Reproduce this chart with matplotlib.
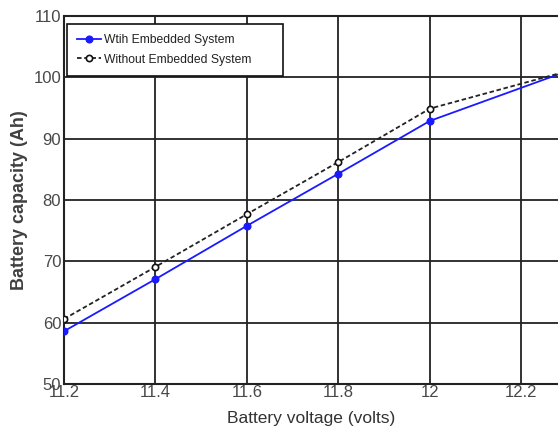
import numpy as np
import matplotlib
matplotlib.use('Agg')
import matplotlib.pyplot as plt

plt.rcParams['font.family'] = ['Liberation Sans', 'DejaVu Sans']

# values
voltage = [11.2, 11.4, 11.6, 11.8, 12.0, 12.3]
with_system = [58.6, 67.1, 75.8, 84.3, 92.9, 101.0]
without_system = [60.6, 69.1, 77.7, 86.2, 94.9, 101.0]
x_ticks = [11.2, 11.4, 11.6, 11.8, 12.0, 12.2]
x_labels = ['11.2', '11.4', '11.6', '11.8', '12', '12.2']
y_ticks = [50, 60, 70, 80, 90, 100, 110]

fig = plt.figure(figsize=(5.58, 4.30), dpi=100)
ax = fig.add_axes([64 / 558, 1 - 384 / 430, 1 - 64 / 558, 368 / 430])

ax.plot(voltage, with_system, '-', color='#1a1aff', lw=1.3, marker='o',
        ms=4.8, mfc='#1a1aff', mec='#1a1aff', label='Wtih Embedded System', zorder=3)
ax.plot(voltage, without_system, '--', color='#222222', lw=1.3, dashes=(2.5, 1.5), marker='o',
        ms=4.5, mfc='white', mec='#111111', mew=1.2, label='Without Embedded System', zorder=4)

ax.set_xlim(11.2, 12.28)
ax.set_ylim(50, 110)
ax.set_xticks(x_ticks)
ax.set_xticklabels(x_labels)
ax.set_yticks(y_ticks)

ax.grid(True, color='#222222', lw=1.3)
ax.set_axisbelow(True)
for side in ['left', 'top', 'bottom']:
    ax.spines[side].set_color('#222222')
    ax.spines[side].set_linewidth(1.5)
ax.spines['right'].set_visible(False)

ax.tick_params(length=0, labelsize=12, labelcolor='#484848', pad=2)
ax.tick_params(axis='x', pad=1)

ax.set_xlabel('Battery voltage (volts)', fontsize=12.5, color='#333333', labelpad=8)
ax.set_ylabel('Battery capacity (Ah)', fontsize=13, fontweight='bold', color='#404040', labelpad=4)

leg = ax.legend(loc='upper left', bbox_to_anchor=(3 / 494, 0.978, 216 / 494, 0.0),
                mode='expand', borderaxespad=0,
                fontsize=8.7, frameon=True, fancybox=False, handlelength=2.0,
                handletextpad=0.25, borderpad=0.85, labelspacing=0.6)
leg.get_frame().set_edgecolor('#111111')
leg.get_frame().set_linewidth(1.2)
leg.get_frame().set_alpha(1)
for t in leg.get_texts():
    t.set_color('#222222')

fig.savefig('out.png', dpi=100)
plt.close()
